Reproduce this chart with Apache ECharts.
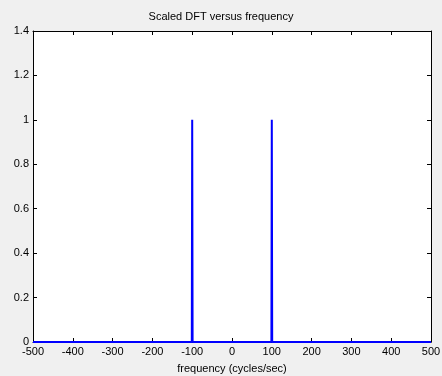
<!DOCTYPE html>
<html><head><meta charset="utf-8">
<script src="https://cdn.jsdelivr.net/npm/echarts@6/dist/echarts.min.js"></script>
<style>html,body{margin:0;padding:0;background:#f0f0f0;}#c{width:442px;height:376px;}</style>
</head><body><div id="c"></div>
<script>
const freq = [-500, -101, -100, -99, 99, 100, 101, 500];
const scaledDFT = [0, 0, 1, 0, 0, 1, 0, 0];
const xTicks = [-500, 500, 100];
const yTicks = [0, 1.4, 0.2];

const chart = echarts.init(document.getElementById('c'));
const font = 'Liberation Sans, Arial, sans-serif';
const axisCommon = {
  axisLine: {show: true, onZero: false, lineStyle: {color: '#000', width: 1}},
  axisTick: {show: true, inside: true, length: 4, lineStyle: {color: '#000'}},
  splitLine: {show: false}
};
chart.setOption({
  backgroundColor: '#f0f0f0',
  animation: false,
  title: {text: 'Scaled DFT versus frequency', left: 'center', top: 6,
    textStyle: {fontSize: 11, fontWeight: 'normal', color: '#000', fontFamily: font}},
  grid: {left: 33, right: 11, top: 31, bottom: 34, backgroundColor: '#fff', show: true, borderWidth: 0,
    containLabel: false, outerBoundsMode: 'none'},
  xAxis: [
    Object.assign({type: 'value', min: xTicks[0], max: xTicks[1], interval: xTicks[2], position: 'bottom',
      name: 'frequency (cycles/sec)', nameLocation: 'middle', nameGap: 21,
      nameTextStyle: {fontSize: 11, color: '#000', fontFamily: font},
      axisLabel: {fontSize: 11, color: '#000', margin: 4, fontFamily: font}}, axisCommon),
    Object.assign({type: 'value', min: xTicks[0], max: xTicks[1], interval: xTicks[2], position: 'top',
      axisLabel: {show: false}}, axisCommon)
  ],
  yAxis: [
    Object.assign({type: 'value', min: yTicks[0], max: yTicks[1], interval: yTicks[2], position: 'left',
      axisLabel: {fontSize: 11, color: '#000', margin: 4, fontFamily: font}}, axisCommon),
    Object.assign({type: 'value', min: yTicks[0], max: yTicks[1], interval: yTicks[2], position: 'right',
      axisLabel: {show: false}}, axisCommon)
  ],
  series: [{
    type: 'line', xAxisIndex: 0, yAxisIndex: 0,
    data: freq.map((f, i) => [f, scaledDFT[i]]),
    showSymbol: false, lineStyle: {color: '#0000ff', width: 2}, z: 1
  }]
});
</script></body></html>
